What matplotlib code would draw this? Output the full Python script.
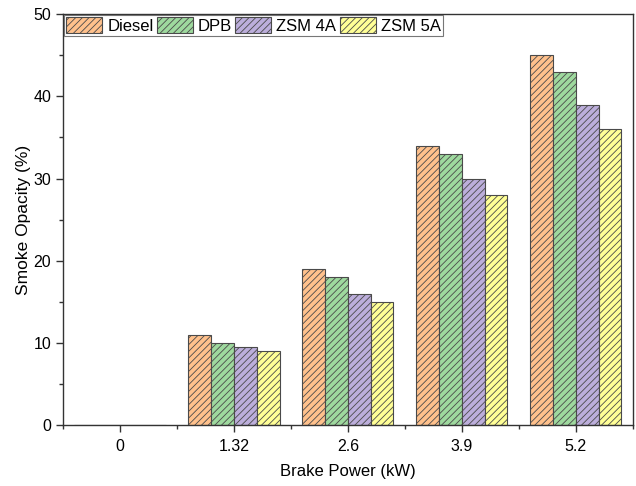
import numpy as np
import matplotlib.pyplot as plt
from matplotlib.ticker import MultipleLocator

plt.rcParams['font.family'] = ['Liberation Sans', 'DejaVu Sans']
plt.rcParams['hatch.linewidth'] = 0.6

# brake power levels and smoke opacity per fuel
power_labels = ['0', '1.32', '2.6', '3.9', '5.2']
diesel = [0, 11, 19, 34, 45]
dpb = [0, 10, 18, 33, 43]
zsm4a = [0, 9.5, 16, 30, 39]
zsm5a = [0, 9, 15, 28, 36]

series = [diesel, dpb, zsm4a, zsm5a]
names = ['Diesel', 'DPB', 'ZSM 4A', 'ZSM 5A']
colors = ['#ffc18c', '#9ed99e', '#bcaedb', '#ffff96']

fig, ax = plt.subplots(figsize=(6.36, 4.86), dpi=100)
fig.subplots_adjust(left=0.099, right=0.995, top=0.971, bottom=0.125)

x = np.arange(len(power_labels))
w = 0.2
for i, (vals, name, c) in enumerate(zip(series, names, colors)):
    ax.bar(x + (i - 1.5) * w, vals, w, color=c, edgecolor='#4a4a4a',
           linewidth=0.8, hatch='/////', label=name)

ax.set_xlim(-0.5, 4.5)
ax.set_ylim(0, 50)
ax.set_xticks(x)
ax.set_xticklabels(power_labels)
ax.xaxis.set_minor_locator(MultipleLocator(1, offset=0.5))
ax.yaxis.set_major_locator(MultipleLocator(10))
ax.yaxis.set_minor_locator(MultipleLocator(5))
ax.tick_params(which='major', length=5, width=1, labelsize=11.5, color='#333333')
ax.tick_params(which='minor', length=3, width=1, color='#333333')
ax.tick_params(axis='x', pad=5)
for s in ax.spines.values():
    s.set_linewidth(1)
    s.set_color('#333333')

ax.set_xlabel('Brake Power (kW)', fontsize=12, labelpad=7)
ax.set_ylabel('Smoke Opacity (%)', fontsize=12.5, labelpad=2)

leg = ax.legend(loc='upper left', ncol=4, fontsize=12, frameon=True, fancybox=False,
                borderaxespad=0.05, handlelength=2.16, handleheight=1.08,
                handletextpad=0.3, columnspacing=0.2, borderpad=0.15)
leg.get_frame().set_edgecolor('#555555')
leg.get_frame().set_linewidth(0.8)

plt.savefig('out.png', dpi=100)
